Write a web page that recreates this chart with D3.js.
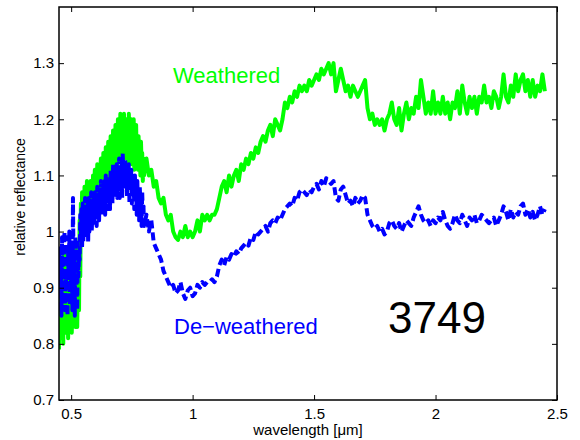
<!DOCTYPE html>
<html>
<head>
<meta charset="utf-8">
<script src="https://cdn.jsdelivr.net/npm/d3@7"></script>
<style>
  html, body { margin: 0; padding: 0; background: #fff; }
  svg { display: block; font-family: "Liberation Sans", Arial, Helvetica, sans-serif; }
</style>
</head>
<body>
<svg id="chart" width="580" height="440"></svg>
<script>
// ---- data ----
const wavelength = [
  0.4500,0.4525,0.4550,0.4575,0.4600,0.4625,0.4650,0.4675,0.4700,0.4725,
  0.4750,0.4775,0.4800,0.4825,0.4850,0.4875,0.4900,0.4925,0.4950,0.4975,
  0.5000,0.5025,0.5050,0.5075,0.5100,0.5125,0.5150,0.5175,0.5200,0.5225,
  0.5250,0.5275,0.5300,0.5325,0.5350,0.5375,0.5400,0.5425,0.5450,0.5475,
  0.5500,0.5525,0.5550,0.5575,0.5600,0.5625,0.5650,0.5675,0.5700,0.5725,
  0.5750,0.5775,0.5800,0.5825,0.5850,0.5875,0.5900,0.5925,0.5950,0.5975,
  0.6000,0.6025,0.6050,0.6075,0.6100,0.6125,0.6150,0.6175,0.6200,0.6225,
  0.6250,0.6275,0.6300,0.6325,0.6350,0.6375,0.6400,0.6425,0.6450,0.6475,
  0.6500,0.6525,0.6550,0.6575,0.6600,0.6625,0.6650,0.6675,0.6700,0.6725,
  0.6750,0.6775,0.6800,0.6825,0.6850,0.6875,0.6900,0.6925,0.6950,0.6975,
  0.7000,0.7025,0.7050,0.7075,0.7100,0.7125,0.7150,0.7175,0.7200,0.7225,
  0.7250,0.7275,0.7300,0.7325,0.7350,0.7375,0.7400,0.7425,0.7450,0.7475,
  0.7500,0.7525,0.7550,0.7575,0.7600,0.7625,0.7650,0.7675,0.7700,0.7725,
  0.7750,0.7775,0.7800,0.7825,0.7850,0.7875,0.7900,0.7925,0.7950,0.7975,
  0.8000,
  0.81,0.82,0.83,0.84,0.85,0.86,0.87,0.88,0.89,0.90,
  0.91,0.92,0.93,0.94,0.95,0.96,0.97,0.98,0.99,1.00,
  1.01,1.02,1.03,1.04,1.05,1.06,1.07,1.08,1.09,1.10,
  1.11,1.12,1.13,1.14,1.15,1.16,1.17,1.18,1.19,1.20,
  1.21,1.22,1.23,1.24,1.25,1.26,1.27,1.28,1.29,1.30,
  1.31,1.32,1.33,1.34,1.35,1.36,1.37,1.38,1.39,1.40,
  1.41,1.42,1.43,1.44,1.45,1.46,1.47,1.48,1.49,1.50,
  1.51,1.52,1.53,1.54,1.55,1.56,1.57,1.58,1.59,1.60,
  1.61,1.62,1.63,1.64,1.65,1.66,1.67,1.68,1.69,1.70,
  1.71,1.72,1.73,1.74,1.75,1.76,1.77,1.78,1.79,1.80,
  1.81,1.82,1.83,1.84,1.85,1.86,1.87,1.88,1.89,1.90,
  1.91,1.92,1.93,1.94,1.95,1.96,1.97,1.98,1.99,2.00,
  2.01,2.02,2.03,2.04,2.05,2.06,2.07,2.08,2.09,2.10,
  2.11,2.12,2.13,2.14,2.15,2.16,2.17,2.18,2.19,2.20,
  2.21,2.22,2.23,2.24,2.25,2.26,2.27,2.28,2.29,2.30,
  2.31,2.32,2.33,2.34,2.35,2.36,2.37,2.38,2.39,2.40,
  2.41,2.42,2.43,2.44,2.45
];

const weathered = [
  0.79,0.92,0.84,0.95,0.81,0.87,0.93,0.80,0.96,0.85,
  0.90,0.82,0.94,0.88,0.97,0.81,0.91,0.95,0.83,0.89,
  0.96,0.82,0.87,0.93,0.84,0.97,0.89,0.83,0.94,0.98,
  0.83,0.91,0.95,0.86,1.02,0.92,1.05,1.00,1.07,1.02,
  1.05,1.00,1.08,1.03,1.06,1.01,1.09,1.04,1.00,1.08,
  1.03,1.06,1.09,1.02,1.07,1.04,1.10,1.05,1.08,1.11,
  1.04,1.09,1.06,1.12,1.05,1.08,1.10,1.04,1.11,1.13,
  1.06,1.11,1.07,1.14,1.09,1.12,1.06,1.15,1.10,1.13,
  1.08,1.16,1.11,1.14,1.09,1.17,1.12,1.15,1.10,1.18,
  1.13,1.16,1.11,1.19,1.14,1.17,1.12,1.20,1.15,1.18,
  1.13,1.21,1.16,1.19,1.14,1.20,1.17,1.21,1.15,1.19,
  1.13,1.20,1.16,1.18,1.12,1.21,1.15,1.19,1.17,1.20,
  1.12,1.18,1.15,1.20,1.11,1.17,1.14,1.19,1.12,1.16,
  1.11,1.17,1.13,1.15,1.10,1.16,1.12,1.14,1.09,1.13,
  1.10,
  1.13,1.10,1.11,1.08,1.09,1.06,1.05,1.06,1.03,1.02,
  1.03,1.00,0.99,0.985,1.00,0.99,1.01,0.99,1.00,0.99,
  1.00,1.02,1.00,1.03,1.02,1.03,1.02,1.03,1.03,1.04,
  1.06,1.08,1.09,1.07,1.10,1.08,1.10,1.11,1.09,1.12,
  1.11,1.13,1.12,1.14,1.13,1.15,1.14,1.16,1.17,1.16,
  1.18,1.19,1.17,1.20,1.19,1.18,1.20,1.23,1.22,1.24,
  1.23,1.25,1.24,1.26,1.25,1.26,1.25,1.27,1.26,1.27,
  1.28,1.27,1.29,1.28,1.29,1.30,1.28,1.30,1.25,1.27,
  1.29,1.27,1.25,1.26,1.24,1.26,1.25,1.24,1.25,1.26,
  1.27,1.22,1.20,1.21,1.19,1.20,1.19,1.20,1.18,1.20,
  1.21,1.23,1.20,1.19,1.22,1.18,1.21,1.23,1.20,1.22,
  1.21,1.24,1.22,1.27,1.24,1.21,1.23,1.21,1.25,1.21,
  1.23,1.21,1.24,1.21,1.23,1.20,1.23,1.22,1.25,1.21,
  1.26,1.23,1.21,1.24,1.22,1.24,1.21,1.24,1.23,1.26,
  1.23,1.24,1.22,1.25,1.24,1.22,1.24,1.28,1.24,1.23,
  1.26,1.24,1.28,1.25,1.27,1.28,1.25,1.27,1.24,1.27,
  1.24,1.26,1.25,1.28,1.25
];

const deweathered = [
  0.86,0.97,0.92,0.94,0.85,0.99,0.90,0.87,0.95,1.00,
  0.86,0.93,0.90,0.99,0.85,0.96,0.92,1.00,0.87,0.97,
  0.91,0.98,0.86,1.06,0.93,0.95,0.85,0.99,0.94,0.89,
  0.86,0.98,0.92,0.96,0.95,1.03,0.99,1.04,0.97,1.05,
  0.98,1.03,1.01,1.06,0.99,1.02,1.04,1.05,0.98,1.06,
  1.00,1.04,1.02,1.07,1.00,1.05,1.03,1.06,1.01,1.07,
  1.02,1.05,1.01,1.08,1.04,1.07,1.02,1.08,1.05,1.09,
  1.03,1.07,1.05,1.08,1.04,1.09,1.03,1.10,1.06,1.08,
  1.04,1.09,1.07,1.10,1.04,1.11,1.08,1.09,1.05,1.12,
  1.06,1.10,1.08,1.11,1.07,1.12,1.06,1.10,1.09,1.13,
  1.06,1.11,1.09,1.12,1.06,1.14,1.08,1.11,1.10,1.13,
  1.08,1.12,1.06,1.11,1.09,1.12,1.05,1.10,1.08,1.11,
  1.05,1.10,1.07,1.09,1.04,1.10,1.06,1.08,1.03,1.09,
  1.04,1.07,1.02,1.08,1.05,1.06,1.01,1.07,1.03,1.05,
  1.01,
  1.03,1.00,1.02,0.98,0.97,0.96,0.95,0.93,0.92,0.91,
  0.90,0.905,0.89,0.895,0.91,0.89,0.88,0.895,0.90,0.885,
  0.89,0.905,0.90,0.91,0.905,0.91,0.91,0.915,0.91,0.92,
  0.94,0.95,0.94,0.955,0.95,0.96,0.955,0.965,0.96,0.97,
  0.975,0.98,0.975,0.99,0.985,1.00,0.995,1.00,1.005,1.01,
  1.00,1.015,1.02,1.015,1.025,1.02,1.03,1.04,1.045,1.05,
  1.045,1.06,1.055,1.07,1.075,1.07,1.065,1.075,1.07,1.08,
  1.085,1.075,1.09,1.08,1.095,1.09,1.085,1.09,1.06,1.055,
  1.075,1.08,1.065,1.05,1.055,1.045,1.06,1.05,1.055,1.065,
  1.06,1.03,1.02,1.01,1.005,1.01,1.00,1.005,0.995,1.00,
  1.015,1.02,1.01,1.005,1.015,1.00,1.01,1.02,1.015,1.01,
  1.025,1.035,1.045,1.03,1.02,1.015,1.02,1.01,1.02,1.015,
  1.025,1.02,1.035,1.02,1.01,1.005,1.015,1.03,1.02,1.015,
  1.03,1.02,1.01,1.025,1.02,1.03,1.015,1.02,1.03,1.025,
  1.02,1.015,1.02,1.025,1.01,1.02,1.03,1.045,1.035,1.02,
  1.04,1.025,1.035,1.03,1.045,1.05,1.03,1.04,1.025,1.035,
  1.02,1.03,1.045,1.03,1.04
];

const xTicks = [0.5, 1, 1.5, 2, 2.5];
const yTicks = [0.7, 0.8, 0.9, 1, 1.1, 1.2, 1.3];
const seriesLabels = ["Weathered", "De\u2212weathered"];
const sampleId = "3749";

// ---- layout ----
const svg = d3.select("#chart");
const mLeft = 59, mRight = 557, mTop = 7, mBottom = 400;

const x = d3.scaleLinear().domain([0.45, 2.5]).range([mLeft, mRight]);
const y = d3.scaleLinear().domain([0.7, 1.4]).range([mBottom, mTop]);

svg.append("defs").append("clipPath").attr("id", "plotclip")
  .append("rect").attr("x", mLeft).attr("y", mTop)
  .attr("width", mRight - mLeft).attr("height", mBottom - mTop);

const line = d3.line().x(d => x(d[0])).y(d => y(d[1]));
const gData = wavelength.map((w, i) => [w, weathered[i]]);
const bData = wavelength.map((w, i) => [w, deweathered[i]]);

const plot = svg.append("g").attr("clip-path", "url(#plotclip)");
plot.append("path").datum(gData)
  .attr("d", line).attr("fill", "none")
  .attr("stroke", "#00ff00").attr("stroke-width", 4)
  .attr("stroke-linejoin", "round");
plot.append("path").datum(bData)
  .attr("d", line).attr("fill", "none")
  .attr("stroke", "#0000ff").attr("stroke-width", 4)
  .attr("stroke-dasharray", "8,4")
  .attr("stroke-linejoin", "round");

// axes (MATLAB box style, ticks inward on all sides)
const tickLen = 5;
const axBottom = svg.append("g").attr("transform", `translate(0,${mBottom})`)
  .call(d3.axisBottom(x).tickValues(xTicks).tickSizeInner(-tickLen).tickSizeOuter(0)
    .tickPadding(8).tickFormat(d3.format("")));
const axTop = svg.append("g").attr("transform", `translate(0,${mTop})`)
  .call(d3.axisTop(x).tickValues(xTicks).tickSizeInner(-tickLen).tickSizeOuter(0).tickFormat(""));
const axLeft = svg.append("g").attr("transform", `translate(${mLeft},0)`)
  .call(d3.axisLeft(y).tickValues(yTicks).tickSizeInner(-tickLen).tickSizeOuter(0)
    .tickPadding(5).tickFormat(d3.format("")));
const axRight = svg.append("g").attr("transform", `translate(${mRight},0)`)
  .call(d3.axisRight(y).tickValues(yTicks).tickSizeInner(-tickLen).tickSizeOuter(0).tickFormat(""));

[axBottom, axTop, axLeft, axRight].forEach(a => {
  a.select(".domain").remove();
  a.selectAll("line").attr("stroke", "#000").attr("stroke-width", 1);
  a.selectAll("text").attr("fill", "#000").style("font-size", "15px")
    .style("font-family", "'Liberation Sans', Arial, sans-serif");
});

svg.append("rect").attr("x", mLeft).attr("y", mTop)
  .attr("width", mRight - mLeft).attr("height", mBottom - mTop)
  .attr("fill", "none").attr("stroke", "#000").attr("stroke-width", 1.5);

// axis labels
svg.append("text").attr("x", (mLeft + mRight) / 2).attr("y", 435)
  .attr("text-anchor", "middle").style("font-size", "15px").text("wavelength [\u03bcm]");
svg.append("text").attr("transform", "translate(25,197) rotate(-90)")
  .attr("text-anchor", "middle").style("font-size", "14px").text("relative reflectance");

// annotations
svg.append("text").attr("x", 173).attr("y", 83).attr("fill", "#00ff00")
  .style("font-size", "22px").text(seriesLabels[0]);
svg.append("text").attr("x", 174).attr("y", 334).attr("fill", "#0000ff")
  .style("font-size", "22px").text(seriesLabels[1]);
svg.append("text").attr("x", 388).attr("y", 333).attr("fill", "#000")
  .style("font-size", "44px").text(sampleId);
</script>
</body>
</html>
